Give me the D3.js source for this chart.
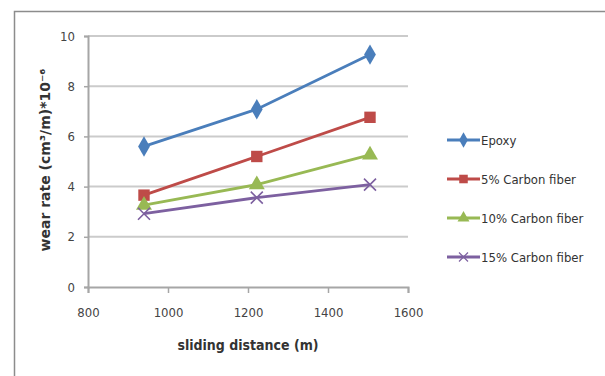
<!DOCTYPE html>
<html>
<head>
<meta charset="utf-8">
<script src="https://cdn.jsdelivr.net/npm/d3@7/dist/d3.min.js"></script>
<style>
  body { margin: 0; background: #fff; }
  svg { display: block; }
  .tick text { font-family: "DejaVu Sans Condensed", "Liberation Sans Narrow", sans-serif; font-size: 13px; fill: #444; }
</style>
</head>
<body>
<div id="chart"></div>
<script>
'use strict';

var distance = [940, 1222, 1505];
var seriesNames = ['Epoxy', '5% Carbon fiber', '10% Carbon fiber', '15% Carbon fiber'];
var epoxy = [5.6, 7.08, 9.26];
var cf5 = [3.66, 5.2, 6.76];
var cf10 = [3.26, 4.08, 5.26];
var cf15 = [2.92, 3.56, 4.08];
var xTicks = [800, 1000, 1200, 1400, 1600];
var yTicks = [0, 2, 4, 6, 8, 10];

var colors = ['#4a7ebb', '#be4b48', '#98b954', '#7d60a0'],
    markers = ['diamond', 'square', 'triangle', 'cross'],
    values = [epoxy, cf5, cf10, cf15],
    width = 605,
    height = 376,
    font = '"DejaVu Sans Condensed", "Liberation Sans Narrow", sans-serif';

var svg = d3.select('#chart').append('svg').attr('width', width).attr('height', height);

// chart area border
svg.append('rect').attr('x', 14.5).attr('y', 11.5).attr('width', 600).attr('height', 380)
  .attr('fill', 'none').attr('stroke', '#8c8c8c').attr('stroke-width', 1.5);

var x = d3.scaleLinear().domain([800, 1600]).range([88, 408]),
    y = d3.scaleLinear().domain([0, 10]).range([287, 36]);

// gridlines
svg.append('g').selectAll('line').data(yTicks.filter(function (d) { return d > 0; })).enter().append('line')
  .attr('x1', x(800)).attr('x2', x(1600))
  .attr('y1', function (d) { return y(d); }).attr('y2', function (d) { return y(d); })
  .attr('stroke', '#cbcbcb').attr('stroke-width', 2);

// axes
var xAxis = svg.append('g').attr('transform', 'translate(0,' + y(0) + ')')
  .call(d3.axisBottom(x).tickValues(xTicks).tickFormat(d3.format('d')).tickSize(6).tickPadding(15));
var yAxis = svg.append('g').attr('transform', 'translate(' + x(800) + ',0)')
  .call(d3.axisLeft(y).tickValues(yTicks).tickSize(4).tickPadding(9));

[xAxis, yAxis].forEach(function (g) {
  g.select('.domain').attr('stroke', '#a6a6a6').attr('stroke-width', 2);
  g.selectAll('.tick line').attr('stroke', '#a6a6a6').attr('stroke-width', 1.5);
});

// axis titles
svg.append('text').attr('x', 248).attr('y', 350).attr('text-anchor', 'middle')
  .style('font-family', font).style('font-size', '14px').style('font-weight', 'bold').attr('fill', '#333')
  .text('sliding distance (m)');

svg.append('text').attr('transform', 'translate(50,160) rotate(-90)').attr('text-anchor', 'middle')
  .style('font-family', '"DejaVu Sans", sans-serif').style('font-size', '14px').style('font-weight', 'bold').attr('fill', '#333')
  .text('wear rate (cm³/m)*10⁻⁶');

function drawMarker(g, type, color, cx, cy) {
  if (type === 'diamond') {
    g.append('path').attr('d', d3.symbol(d3.symbolDiamond, 120)()).attr('transform', 'translate(' + cx + ',' + cy + ')').attr('fill', color);
  } else if (type === 'square') {
    g.append('path').attr('d', d3.symbol(d3.symbolSquare, 130)()).attr('transform', 'translate(' + cx + ',' + cy + ')').attr('fill', color);
  } else if (type === 'triangle') {
    g.append('path').attr('d', d3.symbol(d3.symbolTriangle, 110)()).attr('transform', 'translate(' + cx + ',' + cy + ')').attr('fill', color);
  } else {
    g.append('path').attr('d', 'M-6,-6L6,6M-6,6L6,-6').attr('transform', 'translate(' + cx + ',' + cy + ')')
      .attr('stroke', color).attr('stroke-width', 1.6).attr('fill', 'none');
  }
}

var line = d3.line().x(function (d, i) { return x(distance[i]); }).y(function (d) { return y(d); });

values.forEach(function (vals, s) {
  var g = svg.append('g');
  g.append('path').datum(vals).attr('d', line).attr('fill', 'none')
    .attr('stroke', colors[s]).attr('stroke-width', 2.8);
  vals.forEach(function (v, i) {
    drawMarker(g, markers[s], colors[s], x(distance[i]), y(v));
  });
});

// legend
var legendY = d3.scalePoint().domain(seriesNames).range([140, 257]);
seriesNames.forEach(function (name, s) {
  var g = svg.append('g'), ly = legendY(name);
  g.append('line').attr('x1', 447).attr('x2', 480).attr('y1', ly).attr('y2', ly)
    .attr('stroke', colors[s]).attr('stroke-width', 2.8);
  var m = g.append('g').attr('transform', 'translate(463.5,' + ly + ') scale(0.75)');
  drawMarker(m, markers[s], colors[s], 0, 0);
  g.append('text').attr('x', 481).attr('y', ly + 5)
    .style('font-family', font).style('font-size', '13px').attr('fill', '#333').text(name);
});
</script>
</body>
</html>
